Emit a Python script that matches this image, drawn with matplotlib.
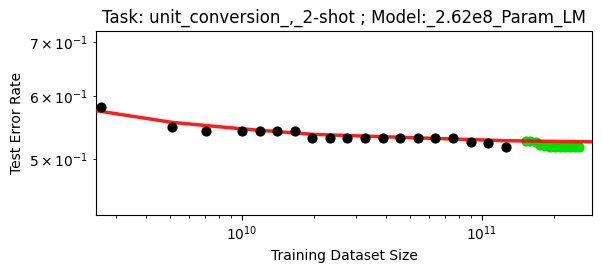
import matplotlib
matplotlib.use("Agg")
import matplotlib.pyplot as plt
import numpy as np

# observed test error vs training dataset size (black points)
train_size = [2.58e9, 5.1e9, 7.1e9, 1.0e10, 1.19e10, 1.4e10, 1.66e10,
              1.96e10, 2.33e10, 2.74e10, 3.25e10, 3.87e10, 4.55e10,
              5.4e10, 6.35e10, 7.57e10, 9.0e10, 1.06e11, 1.26e11]
test_err = [0.581, 0.548, 0.543, 0.543, 0.543, 0.5425, 0.5425,
            0.532, 0.532, 0.532, 0.532, 0.532, 0.532,
            0.532, 0.532, 0.532, 0.526, 0.5245, 0.5183]

# held-out points (green)
extra_size = [1.525e11, 1.585e11, 1.67e11, 1.745e11, 1.83e11, 1.92e11,
              2.01e11, 2.11e11, 2.22e11, 2.33e11, 2.44e11, 2.535e11]
extra_err = [0.5277, 0.5266, 0.5251, 0.5214, 0.5194, 0.5186,
             0.5186, 0.5186, 0.518, 0.518, 0.518, 0.518]

# fitted trend (red)
fit_size = [2.47e9, 5.1e9, 1.0e10, 1.96e10, 3.87e10, 7.57e10, 1.26e11, 2.87e11]
fit_err = [0.575, 0.556, 0.5457, 0.5372, 0.5335, 0.530, 0.5274, 0.5257]

fig = plt.figure(figsize=(6.02, 2.73), dpi=100)
ax = fig.add_axes([0.1595, 0.2125, 0.8239, 0.674])

ax.scatter(extra_size, extra_err, s=40, color="#00e000", zorder=2)
ax.plot(fit_size, fit_err, color="red", lw=2.5, alpha=0.88, zorder=3)
ax.scatter(train_size, test_err, s=40, color="black", zorder=4)

ax.set_xscale("log")
ax.set_yscale("log")
ax.set_xlim(2.47e9, 2.87e11)
ax.set_ylim(0.426, 0.723)

ax.set_xlabel("Training Dataset Size")
ax.set_ylabel("Test Error Rate")
ax.set_title("Task: unit_conversion_,_2-shot ; Model:_2.62e8_Param_LM")

fig.savefig("out.png", dpi=100)
